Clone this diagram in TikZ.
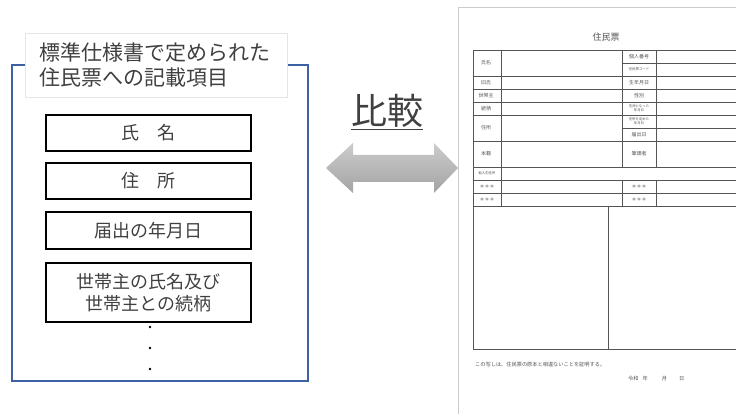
\documentclass[tikz,border=0pt]{standalone}
\usepackage{fontspec}
\setmainfont{Noto Sans CJK JP}
\definecolor{frameblue}{RGB}{62,96,164}
\definecolor{txtgray}{RGB}{64,64,64}
\definecolor{formline}{RGB}{85,85,85}
\tikzset{
  itembox/.style={draw=black,line width=1.4pt,minimum width=205pt,text=txtgray,
    font=\fontsize{18}{22}\selectfont,align=center,inner sep=0pt},
  formcell/.style={font=\fontsize{5}{5.5}\selectfont,text=formline,inner sep=0pt,align=center},
  smallcell/.style={formcell,font=\fontsize{3.4}{4.4}\selectfont},
  formrule/.style={draw=formline,line width=0.8pt}
}
\begin{document}
\begin{tikzpicture}[x=1pt,y=-1pt]
\useasboundingbox (0,0) rectangle (736,414);
% left frame with title
\draw[frameblue,line width=1.2pt] (25,65) -- (12,65) -- (12,381) -- (308,381) -- (308,65) -- (287,65);
\draw[draw=gray!20,fill=white] (25,33) rectangle (287,97);
\node[anchor=west,align=left,text=txtgray,font=\fontsize{21}{25}\selectfont,inner sep=0pt] (title) at (39,65)
  {標準仕様書で定められた\\住民票への記載項目};
\node[itembox,minimum height=36pt] (name) at (148.5,133) {氏　名};
\node[itembox,minimum height=36pt] (addr) at (148.5,181) {住　所};
\node[itembox,minimum height=37pt] (date) at (148.5,230.5) {届出の年月日};
\node[itembox,minimum height=59pt] (head) at (148.5,292.5) {世帯主の氏名及び\\世帯主との続柄};
\foreach \y in {327,348,369}
  \fill (150,\y) circle (1.3pt);
% comparison arrow
\node[text=txtgray,font=\fontsize{36}{40}\selectfont,inner sep=0pt] (cmp) at (387,112) {\underline{比較}};
\shade[top color=gray!40,bottom color=gray!72]
  (326,168) -- (353,143) -- (353,155) -- (434,155) -- (434,143) -- (458,168)
  -- (434,193) -- (434,182) -- (353,182) -- (353,193) -- cycle;
% resident record sheet
\draw[gray!40,line width=0.8pt] (458,420) -- (458,7) -- (740,7);
\node[formcell,font=\fontsize{9}{10}\selectfont] (sheet) at (606,37) {住民票};
\foreach \y in {50,76,89,102,115,141,167,180,193,206,349}
  \draw[formrule] (473,\y) -- (740,\y);
\draw[formrule] (622,63) -- (740,63);
\draw[formrule] (622,128) -- (740,128);
\draw[formrule] (473,50) -- (473,349);
\draw[formrule] (501,50) -- (501,206);
\draw[formrule] (622,50) -- (622,167) (622,180) -- (622,206);
\draw[formrule] (656,50) -- (656,167) (656,180) -- (656,206);
\draw[formrule] (608,206) -- (608,349);
\node[formcell] (c1) at (486,63) {氏名};
\node[formcell] (c2) at (639,56.5) {個人番号};
\node[smallcell] (c3) at (639,69.5) {住民票コード};
\node[formcell] (c4) at (486,82.5) {旧氏};
\node[formcell] (c5) at (639,82.5) {生年月日};
\node[formcell] (c6) at (486,95.5) {世帯主};
\node[formcell] (c7) at (639,95.5) {性別};
\node[formcell] (c8) at (486,108.5) {続柄};
\node[smallcell] (c9) at (639,108.5) {住民となった\\年月日};
\node[formcell] (c10) at (486,128) {住所};
\node[smallcell] (c11) at (639,121.5) {住所を定めた\\年月日};
\node[formcell] (c12) at (639,134.5) {届出日};
\node[formcell] (c13) at (486,154) {本籍};
\node[formcell] (c14) at (639,154) {筆頭者};
\node[smallcell] (c15) at (487,173.5) {転入前住所};
\node[formcell] (c16) at (487,186.5) {＊＊＊};
\node[formcell] (c17) at (639,186.5) {＊＊＊};
\node[formcell] (c18) at (487,199.5) {＊＊＊};
\node[formcell] (c19) at (639,199.5) {＊＊＊};
\node[formcell,anchor=west,font=\fontsize{5.2}{6}\selectfont] (note) at (475,365)
  {この写しは、住民票の原本と相違ないことを証明する。};
\node[formcell,anchor=west,font=\fontsize{5.2}{6}\selectfont] (era) at (628,379)
  {令和\hspace{4pt}年\hspace{14pt}月\hspace{12pt}日};
\end{tikzpicture}
\end{document}
